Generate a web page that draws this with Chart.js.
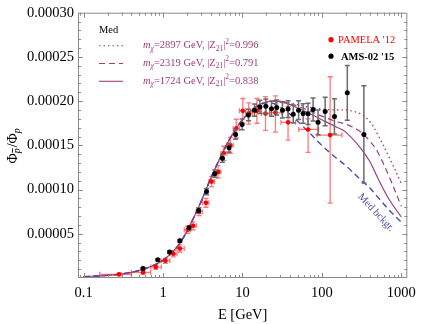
<!DOCTYPE html>
<html>
<head>
<meta charset="utf-8">
<script src="https://cdn.jsdelivr.net/npm/chart.js@4/dist/chart.umd.min.js"></script>
<style>
  html, body { margin: 0; padding: 0; background: #fff; }
</style>
</head>
<body>
<canvas id="ratioChart" width="422" height="324"></canvas>
<script>
// PAMELA 2012 antiproton/proton ratio
const pamE     = [0.28, 0.56, 0.81, 1.07, 1.35, 1.63, 2.05, 2.39, 2.84, 3.47, 4.08, 4.94, 5.82, 7.03, 8.35, 10.1, 12.0, 15.2, 19.5, 26, 37.5, 67, 127];
const pamRatio = [0.41e-5, 0.63e-5, 1.24e-5, 1.95e-5, 2.74e-5, 3.34e-5, 5.45e-5, 5.9e-5, 7.5e-5, 8.5e-5, 10.9e-5, 12.0e-5, 14.1e-5, 15.0e-5, 16.9e-5, 18.9e-5, 18.6e-5, 18.9e-5, 18.6e-5, 18.7e-5, 17.6e-5, 16.8e-5, 16.16e-5];
const pamErrUp = [0.15e-5, 0.2e-5, 0.25e-5, 0.3e-5, 0.35e-5, 0.4e-5, 0.4e-5, 0.45e-5, 0.45e-5, 0.5e-5, 0.6e-5, 0.7e-5, 0.8e-5, 0.9e-5, 1.05e-5, 1.4e-5, 1.2e-5, 1.4e-5, 1.9e-5, 1.9e-5, 1.8e-5, 1.2e-5, 6.6e-5];
const pamErrDn = [0.15e-5, 0.2e-5, 0.25e-5, 0.3e-5, 0.35e-5, 0.4e-5, 0.4e-5, 0.45e-5, 0.45e-5, 0.5e-5, 0.6e-5, 0.7e-5, 0.8e-5, 0.9e-5, 1.05e-5, 1.4e-5, 1.2e-5, 1.4e-5, 1.9e-5, 2.2e-5, 2.0e-5, 2.6e-5, 7.7e-5];
const pamBinLo = [0.16, 0.40, 0.70, 0.95, 1.22, 1.50, 1.85, 2.22, 2.62, 3.12, 3.78, 4.45, 5.35, 6.40, 7.65, 9.15, 11.0, 13.3, 17.3, 22.0, 30.5, 51, 87];
const pamBinHi = [0.40, 0.70, 0.95, 1.22, 1.50, 1.85, 2.22, 2.62, 3.12, 3.78, 4.45, 5.35, 6.40, 7.65, 9.15, 11.0, 13.3, 17.3, 22.0, 31.0, 46.7, 91, 179];

// AMS-02 2015 antiproton/proton ratio
const amsE     = [0.56, 0.86, 1.21, 1.63, 2.13, 2.81, 3.53, 4.49, 5.59, 6.78, 8.2, 9.9, 11.9, 14.2, 16.6, 19.7, 23.2, 27.0, 31.9, 37.5, 43.6, 50.9, 58.1, 66.9, 77.5, 89.5, 110, 144, 209, 338];
const amsRatio = [1.08e-5, 2.06e-5, 2.93e-5, 4.2e-5, 5.67e-5, 7.62e-5, 9.77e-5, 11.8e-5, 13.53e-5, 14.73e-5, 16.24e-5, 17.37e-5, 18.42e-5, 18.98e-5, 19.35e-5, 19.43e-5, 19.13e-5, 19.29e-5, 18.98e-5, 19.1e-5, 18.53e-5, 18.98e-5, 18.61e-5, 18.57e-5, 19.06e-5, 17.6e-5, 18.83e-5, 18.27e-5, 20.94e-5, 16.24e-5];
const amsErr   = [0.1e-5, 0.1e-5, 0.15e-5, 0.15e-5, 0.2e-5, 0.3e-5, 0.35e-5, 0.4e-5, 0.45e-5, 0.5e-5, 0.55e-5, 0.6e-5, 0.65e-5, 0.7e-5, 0.75e-5, 0.8e-5, 0.85e-5, 0.85e-5, 0.9e-5, 0.95e-5, 1.0e-5, 1.05e-5, 1.1e-5, 1.2e-5, 1.3e-5, 1.4e-5, 1.6e-5, 2.0e-5, 3.1e-5, 5.5e-5];

// model curves (background and background + DM)
const curveE  = [0.1, 0.2, 0.3, 0.5, 0.7, 1, 1.5, 2, 3, 4, 5, 7, 10, 15, 20, 25, 30, 40, 50, 70, 100, 150, 200, 300, 400, 500, 700, 1000];
const bkg     = [1.5e-6, 3.0e-6, 4.5e-6, 8.5e-6, 1.3e-5, 2.0e-5, 3.5e-5, 5.3e-5, 8.6e-5, 1.13e-4, 1.32e-4, 1.58e-4, 1.79e-4, 1.94e-4, 1.98e-4, 1.97e-4, 1.93e-4, 1.85e-4, 1.77e-4, 1.64e-4, 1.50e-4, 1.36e-4, 1.27e-4, 1.12e-4, 1.02e-4, 9.2e-5, 7.7e-5, 6.3e-5];
const sig1724 = [1.5e-6, 3.0e-6, 4.5e-6, 8.5e-6, 1.3e-5, 2.0e-5, 3.5e-5, 5.3e-5, 8.6e-5, 1.13e-4, 1.32e-4, 1.58e-4, 1.79e-4, 1.94e-4, 1.99e-4, 2.0e-4, 1.99e-4, 1.96e-4, 1.92e-4, 1.86e-4, 1.79e-4, 1.71e-4, 1.65e-4, 1.48e-4, 1.32e-4, 1.14e-4, 8.9e-5, 6.9e-5];
const sig2319 = [1.5e-6, 3.0e-6, 4.5e-6, 8.5e-6, 1.3e-5, 2.0e-5, 3.5e-5, 5.3e-5, 8.6e-5, 1.13e-4, 1.32e-4, 1.58e-4, 1.79e-4, 1.94e-4, 1.99e-4, 2.0e-4, 2.0e-4, 1.97e-4, 1.94e-4, 1.89e-4, 1.83e-4, 1.77e-4, 1.74e-4, 1.66e-4, 1.55e-4, 1.43e-4, 1.15e-4, 8.1e-5];
const sig2897 = [1.5e-6, 3.0e-6, 4.5e-6, 8.5e-6, 1.3e-5, 2.0e-5, 3.5e-5, 5.3e-5, 8.6e-5, 1.13e-4, 1.32e-4, 1.58e-4, 1.79e-4, 1.94e-4, 1.99e-4, 2.0e-4, 2.0e-4, 1.98e-4, 1.96e-4, 1.93e-4, 1.91e-4, 1.90e-4, 1.90e-4, 1.86e-4, 1.77e-4, 1.63e-4, 1.37e-4, 1.07e-4];

const xTicks = [0.1, 1, 10, 100, 1000];
const yTicks = [0.00005, 0.0001, 0.00015, 0.0002, 0.00025, 0.0003];
const legendModels = [
    { mass: '2897', z: '0.996', dash: [1.5, 3] },
    { mass: '2319', z: '0.791', dash: [6, 4] },
    { mass: '1724', z: '0.838', dash: [] }
];

const SERIF = '"Liberation Serif", "DejaVu Serif", serif';
const PURPLE = '#9c3f7c';
const BLUE = '#4b4bab';

const zip = (xs, ys) => xs.map((x, i) => ({ x: x, y: ys[i] }));

// error bars drawn just before each data set's points
const errorBars = {
    id: 'errorBars',
    beforeDatasetDraw(chart, args) {
        const ds = chart.data.datasets[args.index];
        if (!ds.errUp) return;
        const { ctx, scales: { x, y } } = chart;
        ctx.save();
        ctx.strokeStyle = ds.errColor;
        ctx.lineWidth = ds.errWidth;
        ds.data.forEach((p, i) => {
            const px = x.getPixelForValue(p.x);
            const yTop = y.getPixelForValue(p.y + ds.errUp[i]);
            const yBot = y.getPixelForValue(p.y - ds.errDn[i]);
            const py = y.getPixelForValue(p.y);
            ctx.beginPath();
            ctx.moveTo(px, yTop); ctx.lineTo(px, yBot);
            ctx.moveTo(px - 2.5, yTop); ctx.lineTo(px + 2.5, yTop);
            ctx.moveTo(px - 2.5, yBot); ctx.lineTo(px + 2.5, yBot);
            if (ds.binLo) {
                const xl = x.getPixelForValue(ds.binLo[i]);
                const xh = x.getPixelForValue(ds.binHi[i]);
                ctx.moveTo(xl, py); ctx.lineTo(xh, py);
                ctx.moveTo(xl, py - 2.5); ctx.lineTo(xl, py + 2.5);
                ctx.moveTo(xh, py - 2.5); ctx.lineTo(xh, py + 2.5);
            }
            ctx.stroke();
        });
        ctx.restore();
    }
};

// Mathematica style frame with inward ticks on all sides
const frameTicks = {
    id: 'frameTicks',
    afterDraw(chart) {
        const { ctx, chartArea: a, scales: { x, y } } = chart;
        ctx.save();
        ctx.strokeStyle = '#8a8a8a';
        ctx.lineWidth = 1;
        ctx.strokeRect(a.left + 0.5, a.top + 0.5, a.right - a.left - 1, a.bottom - a.top - 1);
        ctx.beginPath();
        // x ticks
        for (let d = 0.01; d <= 1000; d *= 10) {
            for (let k = 1; k <= 9; k++) {
                const v = d * k;
                if (v < x.min || v > x.max) continue;
                const px = Math.round(x.getPixelForValue(v)) + 0.5;
                const len = k === 1 ? 5 : 3;
                ctx.moveTo(px, a.bottom); ctx.lineTo(px, a.bottom - len);
                ctx.moveTo(px, a.top); ctx.lineTo(px, a.top + len);
            }
        }
        // y ticks
        for (let i = 1; i < 30; i++) {
            const v = i * 0.00001;
            const py = Math.round(y.getPixelForValue(v)) + 0.5;
            const len = i % 5 === 0 ? 5 : 3;
            ctx.moveTo(a.left, py); ctx.lineTo(a.left + len, py);
            ctx.moveTo(a.right, py); ctx.lineTo(a.right - len, py);
        }
        ctx.stroke();
        ctx.restore();
    }
};

// y-axis title, legends and curve label
const annotations = {
    id: 'annotations',
    afterDraw(chart) {
        const { ctx, chartArea: a, scales: { x, y } } = chart;
        ctx.save();

        // y title: Phi_pbar / Phi_p
        ctx.translate(17, (a.top + a.bottom) / 2);
        ctx.rotate(-Math.PI / 2);
        ctx.fillStyle = '#000';
        ctx.textBaseline = 'alphabetic';
        const big = '14px ' + SERIF, sub = 'italic 10px ' + SERIF;
        ctx.font = big;
        const wPhi = ctx.measureText('\u03A6').width;
        const wSlash = ctx.measureText('/').width;
        ctx.font = sub;
        const wp = ctx.measureText('p').width;
        let cx = -(2 * wPhi + wSlash + 2 * wp + 2) / 2;
        ctx.font = big; ctx.fillText('\u03A6', cx, 0); cx += wPhi;
        ctx.font = sub; ctx.fillText('p', cx, 3);
        ctx.strokeStyle = '#000'; ctx.lineWidth = 0.8;
        ctx.beginPath(); ctx.moveTo(cx + 0.5, -4.5); ctx.lineTo(cx + wp, -4.5); ctx.stroke();
        cx += wp + 1;
        ctx.font = big; ctx.fillText('/', cx, 0); cx += wSlash;
        ctx.fillText('\u03A6', cx, 0); cx += wPhi;
        ctx.font = sub; ctx.fillText('p', cx, 3);
        ctx.restore();

        // model legend (top left)
        ctx.save();
        ctx.font = '10.5px ' + SERIF;
        ctx.fillStyle = '#000';
        ctx.textBaseline = 'middle';
        ctx.fillText('Med', a.left + 21, a.top + 18);
        legendModels.forEach((m, i) => {
            const ly = a.top + 33 + i * 17.8;
            ctx.strokeStyle = PURPLE;
            ctx.lineWidth = 1.1;
            ctx.setLineDash(m.dash);
            ctx.beginPath(); ctx.moveTo(a.left + 21, ly); ctx.lineTo(a.left + 45, ly); ctx.stroke();
            ctx.setLineDash([]);
            ctx.fillStyle = PURPLE;
            let tx = a.left + 65;
            const parts = [
                ['italic 10.5px ', 'm', 0], ['italic 7.5px ', '\u03C7', 3],
                ['10.5px ', '=' + m.mass + ' GeV, |Z', 0], ['7.5px ', '21', 3],
                ['10.5px ', '|', 0], ['7.5px ', '2', -4], ['10.5px ', '=' + m.z, 0]
            ];
            parts.forEach(([f, t, dy]) => {
                ctx.font = f + SERIF;
                ctx.fillText(t, tx, ly + dy);
                tx += ctx.measureText(t).width;
            });
        });

        // data legend (top right)
        const rx = a.left + 253;
        ctx.fillStyle = '#f00';
        ctx.beginPath(); ctx.arc(rx, a.top + 27, 2.6, 0, 2 * Math.PI); ctx.fill();
        ctx.font = '10.5px ' + SERIF;
        ctx.fillText("PAMELA '12", rx + 7, a.top + 27.5);
        ctx.fillStyle = '#000';
        ctx.beginPath(); ctx.arc(rx, a.top + 43.5, 2.6, 0, 2 * Math.PI); ctx.fill();
        ctx.font = 'bold 10.5px ' + SERIF;
        ctx.fillText("AMS-02 '15", rx + 10, a.top + 44.5);

        // label along the background curve
        const p1x = x.getPixelForValue(curveE[23]), p1y = y.getPixelForValue(bkg[23]);
        const p2x = x.getPixelForValue(curveE[26]), p2y = y.getPixelForValue(bkg[26]);
        const ang = Math.atan2(p2y - p1y, p2x - p1x);
        ctx.translate(x.getPixelForValue(480), y.getPixelForValue(7.4e-5));
        ctx.rotate(ang);
        ctx.font = '10.5px ' + SERIF;
        ctx.fillStyle = BLUE;
        ctx.textAlign = 'center';
        ctx.fillText('Med bckgr.', 0, 0);
        ctx.restore();
    }
};

const lineSet = (label, data, color, dash, width) => ({
    label: label,
    data: zip(curveE, data),
    showLine: true,
    borderColor: color,
    borderWidth: width,
    borderDash: dash,
    pointRadius: 0,
    fill: false,
    tension: 0.35,
    order: 3
});

new Chart(document.getElementById('ratioChart'), {
    type: 'scatter',
    data: {
        datasets: [
            {
                label: 'AMS-02',
                data: zip(amsE, amsRatio),
                backgroundColor: '#000',
                pointRadius: 2.5,
                pointBorderWidth: 0,
                errUp: amsErr, errDn: amsErr,
                errColor: '#6b6b6b', errWidth: 1.5,
                order: 1
            },
            {
                label: 'PAMELA',
                data: zip(pamE, pamRatio),
                backgroundColor: '#f00',
                pointRadius: 2.3,
                pointBorderWidth: 0,
                errUp: pamErrUp, errDn: pamErrDn,
                binLo: pamBinLo, binHi: pamBinHi,
                errColor: 'rgba(255,30,30,0.6)', errWidth: 1.3,
                order: 2
            },
            lineSet('bkg', bkg, BLUE, [6, 4], 1.4),
            lineSet('1724', sig1724, PURPLE, [], 1.2),
            lineSet('2319', sig2319, PURPLE, [6, 4], 1.2),
            lineSet('2897', sig2897, PURPLE, [1.5, 3], 1.3)
        ]
    },
    options: {
        responsive: false,
        animation: false,
        devicePixelRatio: 1,
        layout: { padding: { top: 12, right: 11, left: 0, bottom: 0 } },
        plugins: { legend: { display: false }, tooltip: { enabled: false } },
        scales: {
            x: {
                type: 'logarithmic',
                min: 0.085,
                max: 1190,
                afterBuildTicks: s => { s.ticks = xTicks.map(v => ({ value: v })); },
                afterFit: s => { s.height = 46; },
                grid: { display: false, drawTicks: false },
                border: { display: false },
                ticks: {
                    autoSkip: false, maxRotation: 0, padding: 6, color: '#000',
                    font: { family: SERIF, size: 14.5 },
                    callback: v => String(v)
                },
                title: {
                    display: true, text: 'E [GeV]', color: '#000',
                    font: { family: SERIF, size: 14.5 },
                    padding: { top: 6, bottom: 0 }
                }
            },
            y: {
                min: 0,
                max: 0.0003,
                afterBuildTicks: s => { s.ticks = yTicks.map(v => ({ value: v })); },
                afterFit: s => { s.width = 78; },
                grid: { display: false, drawTicks: false },
                border: { display: false },
                ticks: {
                    padding: 4, color: '#000',
                    font: { family: SERIF, size: 14.5 },
                    callback: v => v.toFixed(5)
                }
            }
        }
    },
    plugins: [errorBars, frameTicks, annotations]
});
</script>
</body>
</html>
